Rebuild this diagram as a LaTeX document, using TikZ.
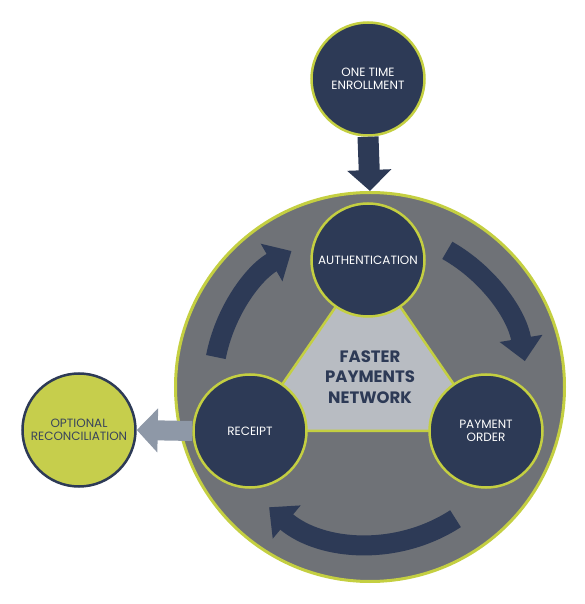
\documentclass[tikz,border=0pt]{standalone}
\usepackage{fontspec}
\setmainfont{Poppins}
\usetikzlibrary{arrows.meta}

\definecolor{navy}{HTML}{2D3A56}
\definecolor{ringgray}{HTML}{6F7277}
\definecolor{netgray}{HTML}{B8BCC2}
\definecolor{fpgreen}{HTML}{C4CF41}
\definecolor{optfill}{HTML}{C6CE4C}
\definecolor{optgray}{HTML}{8E98A7}

\begin{document}
\begin{tikzpicture}[x=1pt, y=1pt,
    stage/.style={circle, draw=fpgreen, line width=2.5pt, fill=navy, text=white,
      minimum size=113pt, inner sep=0pt, align=center,
      font=\fontsize{12}{13.5}\selectfont},
    turn/.style={navy, line width=20pt, -{Triangle[width=42pt,length=23pt]}}
  ]
  \useasboundingbox (-370,-217) rectangle (214,387);

  % Positions of the three stages
  \coordinate (pauth) at (-2,127);
  \coordinate (preceipt) at (-120,-44);
  \coordinate (ppay) at (116,-44);

  % Network ring
  \node[circle, draw=fpgreen, line width=3pt, fill=ringgray,
    minimum size=389pt, inner sep=0pt] (network) at (0,0) {};

  % Triangle between the stages
  \filldraw[fill=netgray, draw=fpgreen, line width=2.5pt, line join=round]
    (pauth) -- (preceipt) -- (ppay) -- cycle;
  \node[text=navy, align=center, font=\bfseries\fontsize{16.5}{20.5}\selectfont]
    (fpn) at (0,10) {FASTER\\PAYMENTS\\NETWORK};

  % Cycle arrows in the ring
  \draw[turn] (169:157) arc[start angle=169, end angle=120, radius=157pt];
  \draw[turn] (60.5:157) arc[start angle=60.5, end angle=9.5, radius=157pt];
  \draw[turn] (-57:157) arc[start angle=-57, end angle=-130, radius=157pt];

  % Stages
  \node[stage] (auth) at (pauth) {AUTHENTICATION};
  \node[stage] (receipt) at (preceipt) {RECEIPT};
  \node[stage] (pay) at (ppay) {PAYMENT\\ORDER};

  % Enrollment on top
  \node[stage] (enroll) at (-2,308) {ONE TIME\\ENROLLMENT};
  \draw[navy, line width=21pt, -{Triangle[width=43pt,length=21pt]}]
    (enroll.south) -- (network.north);

  % Optional reconciliation on the left
  \node[circle, draw=navy, line width=2.5pt, fill=optfill, text=navy!85!gray,
    minimum size=113pt, inner sep=0pt, align=center,
    font=\fontsize{12}{13.5}\selectfont] (optional) at (-291,-43)
    {OPTIONAL\\RECONCILIATION};
  \draw[optgray, line width=20pt, -{Triangle[width=43pt,length=21pt]}]
    (receipt.west) -- (optional.east);
\end{tikzpicture}
\end{document}
